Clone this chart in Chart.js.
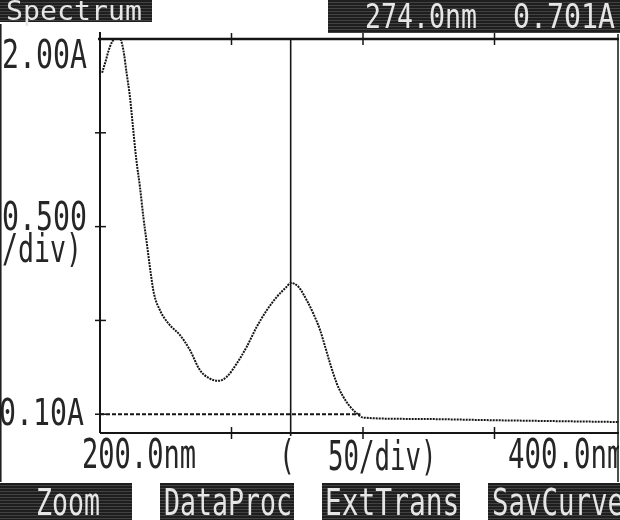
<!DOCTYPE html>
<html>
<head>
<meta charset="utf-8">
<title>Spectrum</title>
<script src="https://cdn.jsdelivr.net/npm/chart.js@4.4.1/dist/chart.umd.min.js"></script>
<style>
  html, body { margin: 0; padding: 0; background: #fff; }
  #wrap { width: 620px; height: 520px; overflow: hidden; position: relative; }
  #spec { display: block; }
</style>
</head>
<body>
<div id="wrap"><canvas id="spec" width="630" height="520"></canvas></div>
<script>
'use strict';

// wavelength (nm) and absorbance
let wavelengths = [200.8, 201.9, 203.8, 205.7, 207.6, 208.9, 210.1, 211.4, 212.4, 213.7, 215.2, 216.5, 218.0, 219.3, 220.5, 222.8, 226.0, 230.4, 234.2, 238.0, 241.8, 245.0, 248.2, 252.0, 255.8, 259.6, 263.4, 267.2, 271.0, 272.5, 275.4, 278.6, 281.1, 283.7, 285.6, 287.5, 290.0, 292.5, 295.1, 297.6, 300.1, 320.0, 350.0, 400.0];
let absorbance = [1.82, 1.87, 1.96, 2.0, 2.0, 1.94, 1.82, 1.69, 1.55, 1.37, 1.21, 1.05, 0.89, 0.75, 0.644, 0.554, 0.484, 0.422, 0.342, 0.235, 0.19, 0.178, 0.20, 0.27, 0.36, 0.466, 0.554, 0.625, 0.68, 0.70, 0.68, 0.608, 0.537, 0.448, 0.36, 0.27, 0.165, 0.093, 0.04, 0.005, -0.018, -0.025, -0.032, -0.042];

let xRange = [200, 400];
let yRange = [-0.10, 2.00];
let xTicks = [250, 300, 350];
let yTicks = [0.5, 1.0, 1.5];
let cursorNm = 272.5;
let zeroLineEnd = 299;

let headerTitle = 'Spectrum';
let cursorText = ['274.0nm', '0.701A'];
let yLabels = ['2.00A', '0.500', '/div)', '0.10A'];
let xLabels = ['200.0nm', '(', '50/div)', '400.0nm'];
let buttons = ['Zoom', 'DataProc', 'ExtTrans', 'SavCurve'];

let points = [];
for (let i = 0; i < wavelengths.length; i++) {
  points.push({ x: wavelengths[i], y: absorbance[i] });
}

let ink = '#151515';

// monospace text stretched tall like the thermal printer font
function drawTxt(ctx, s, x, top, h, adv, color) {
  let fs = adv / 0.602;
  ctx.save();
  ctx.font = fs + 'px "DejaVu Sans Mono"';
  ctx.fillStyle = color || '#262626';
  ctx.textBaseline = 'alphabetic';
  ctx.textAlign = 'left';
  ctx.translate(x, top + h);
  ctx.scale(1, h / (0.729 * fs));
  ctx.fillText(s, 0, 0);
  ctx.restore();
}

// dark dithered box used for header and soft keys
function darkBox(ctx, x, y, w, h) {
  ctx.save();
  ctx.fillStyle = '#1e1e1e';
  ctx.fillRect(x, y, w, h);
  ctx.strokeStyle = 'rgba(255,255,255,0.16)';
  ctx.lineWidth = 1;
  for (let yy = y + 2; yy < y + h; yy += 3) {
    ctx.beginPath();
    ctx.moveTo(x, yy + 0.5);
    ctx.lineTo(x + w, yy + 0.5);
    ctx.stroke();
  }
  ctx.restore();
}

function line(ctx, x1, y1, x2, y2, w, dash) {
  ctx.save();
  ctx.strokeStyle = ink;
  ctx.lineWidth = w;
  ctx.setLineDash(dash || []);
  ctx.beginPath();
  ctx.moveTo(x1, y1);
  ctx.lineTo(x2, y2);
  ctx.stroke();
  ctx.restore();
}

let printout = {
  id: 'printout',
  beforeDraw(chart) {
    let ctx = chart.ctx;
    ctx.save();
    ctx.fillStyle = '#fff';
    ctx.fillRect(0, 0, chart.width, chart.height);
    ctx.restore();
  },
  beforeDatasetsDraw(chart) {
    let ctx = chart.ctx;
    let a = chart.chartArea;
    let xs = chart.scales.x;
    let ys = chart.scales.y;
    // zero line, dashed, up to where the trace reaches it
    let y0 = ys.getPixelForValue(0);
    line(ctx, a.left, y0, xs.getPixelForValue(zeroLineEnd), y0, 2, [4, 2]);
    // cursor
    let cx = xs.getPixelForValue(cursorNm);
    line(ctx, cx, a.top, cx, a.bottom + 3, 1.6);
  },
  afterDraw(chart) {
    let ctx = chart.ctx;
    let a = chart.chartArea;
    let xs = chart.scales.x;
    let ys = chart.scales.y;

    // frame: top, left, bottom
    line(ctx, a.left - 2, a.top, a.right, a.top, 2.5);
    line(ctx, a.left, a.top - 7, a.left, a.bottom, 2);
    line(ctx, a.left, a.bottom, a.right, a.bottom, 2.2);

    xTicks.forEach(function (v) {
      let px = xs.getPixelForValue(v);
      line(ctx, px, a.top - 6, px, a.top + 6, 1.5);
      line(ctx, px, a.bottom - 6, px, a.bottom + 6, 1.5);
    });
    yTicks.forEach(function (v) {
      let py = ys.getPixelForValue(v);
      line(ctx, a.left - 5, py, a.left + 6, py, 1.5);
    });
    let y0 = ys.getPixelForValue(0);
    line(ctx, a.left - 5, y0, a.left + 6, y0, 1.5);

    // axis labels
    drawTxt(ctx, yLabels[0], 2, 40, 28, 17);
    drawTxt(ctx, yLabels[1], 2, 201, 29, 17);
    drawTxt(ctx, yLabels[2], 2, 233, 29, 16);
    drawTxt(ctx, yLabels[3], -1, 398, 27, 17);
    drawTxt(ctx, xLabels[0], 82, 438, 30, 16.3);
    drawTxt(ctx, xLabels[1], 279, 439, 30, 16);
    drawTxt(ctx, xLabels[2], 328, 440, 30, 15.5);
    drawTxt(ctx, xLabels[3], 508, 438, 30, 16.5);

    // header boxes
    darkBox(ctx, 0, 0, 152, 22);
    drawTxt(ctx, headerTitle, 6, 1, 19, 17, '#e6e6e6');
    darkBox(ctx, 328, 0, 292, 33);
    drawTxt(ctx, cursorText[0], 365, 3, 25, 16, '#e6e6e6');
    drawTxt(ctx, cursorText[1], 513, 3, 25, 17, '#e6e6e6');

    // soft keys along the bottom
    let keys = [[0, 132, 36, 16], [160, 134, 164, 16], [322, 138, 325, 16.8], [488, 132, 492, 16.5]];
    for (let i = 0; i < buttons.length; i++) {
      let k = keys[i];
      darkBox(ctx, k[0], 483, k[1], 37);
      drawTxt(ctx, buttons[i], k[2], 488, 27, k[3], '#e6e6e6');
    }

    // scan edges
    line(ctx, 0.8, 24, 0.8, 482, 1.5);
    line(ctx, 618, 34, 618, 482, 1.5);
    ctx.save();
    ctx.fillStyle = '#fff';
    ctx.fillRect(619, 34, 12, 448);
    ctx.restore();
  }
};

let ctx = document.getElementById('spec').getContext('2d');
let spectrumChart = new Chart(ctx, {
  type: 'line',
  data: {
    datasets: [{
      label: 'Absorbance',
      data: points,
      borderColor: ink,
      borderWidth: 2,
      borderDash: [2, 1],
      pointRadius: 0,
      cubicInterpolationMode: 'monotone',
      fill: false
    }]
  },
  options: {
    responsive: false,
    animation: false,
    devicePixelRatio: 1,
    layout: { padding: { left: 100, right: 4, top: 39, bottom: 87 } },
    plugins: { legend: { display: false }, tooltip: { enabled: false } },
    scales: {
      x: { type: 'linear', min: xRange[0], max: xRange[1], display: false },
      y: { type: 'linear', min: yRange[0], max: yRange[1], display: false }
    }
  },
  plugins: [printout]
});
</script>
</body>
</html>
